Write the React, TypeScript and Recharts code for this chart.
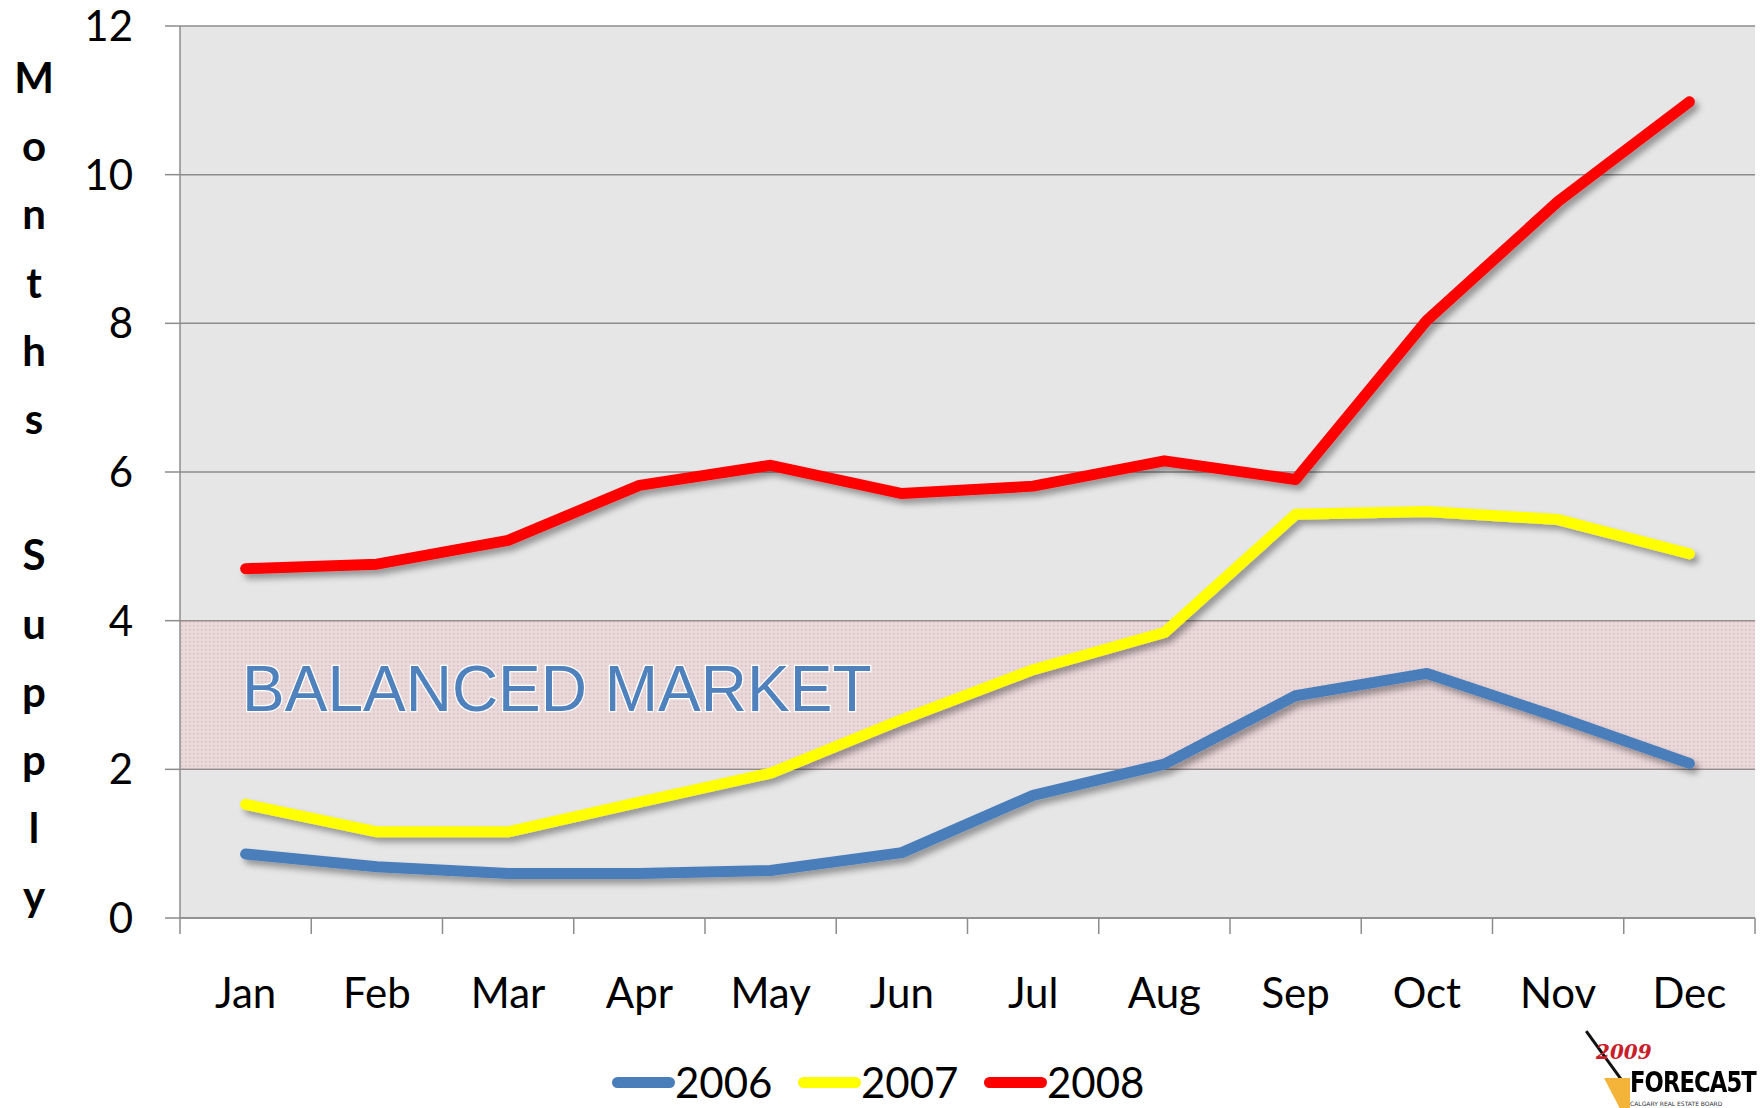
import React from 'react';
import {
  LineChart, Line, XAxis, YAxis, CartesianGrid, ReferenceArea, Legend
} from 'recharts';

// months supply
const months = ['Jan', 'Feb', 'Mar', 'Apr', 'May', 'Jun', 'Jul', 'Aug', 'Sep', 'Oct', 'Nov', 'Dec'];
const supply2006 = [0.86, 0.69, 0.6, 0.6, 0.64, 0.88, 1.65, 2.07, 2.99, 3.29, 2.7, 2.08];
const supply2007 = [1.53, 1.16, 1.16, 1.56, 1.95, 2.67, 3.34, 3.84, 5.43, 5.47, 5.36, 4.9];
const supply2008 = [4.7, 4.76, 5.08, 5.82, 6.09, 5.71, 5.81, 6.15, 5.9, 8.04, 9.64, 10.98];
const yTicks = [0, 2, 4, 6, 8, 10, 12];
const balancedBand = [2, 4];

const series = [
  { key: 'y2006', name: '2006', color: '#4A7EBB' },
  { key: 'y2007', name: '2007', color: '#FFFF00' },
  { key: 'y2008', name: '2008', color: '#FF0000' },
];

const data = months.map((m, i) => ({
  idx: i + 1,
  month: m,
  y2006: supply2006[i],
  y2007: supply2007[i],
  y2008: supply2008[i],
}));

const monthTicks = months.map((_, i) => i + 1);
const boundaryTicks = [...months.map((_, i) => i + 0.5), months.length + 0.5];

const yLabelChars = 'Months Supply'.split('');
const FONT = 'Lato, "Open Sans", sans-serif';

function YLabel() {
  return (
    <text textAnchor="middle" fontFamily={FONT} fontWeight={700} fontSize={42} fill="#000">
      {yLabelChars.map((c, i) => (
        <tspan key={i} x={34} y={93 + i * 68.2}>{c === ' ' ? '\u00a0' : c}</tspan>
      ))}
    </text>
  );
}

function BandLabel(props: any) {
  const vb = props.viewBox || {};
  return (
    <text
      x={vb.x + 62}
      y={vb.y + vb.height / 2 - 7}
      dy="0.36em"
      fontFamily='"Liberation Sans", Arial, sans-serif'
      fontSize={64}
      fill="#4F81BD"
      stroke="#ffffff"
      strokeWidth={2.5}
      paintOrder="stroke"
    >
      BALANCED MARKET
    </text>
  );
}

function LegendContent() {
  return (
    <div style={{ display: 'flex', height: 40, alignItems: 'center', fontFamily: FONT }}>
      {series.map((s) => (
        <div key={s.key} style={{ display: 'flex', alignItems: 'center', width: 186 }}>
          <span style={{ display: 'inline-block', width: 63, height: 11, borderRadius: 6, background: s.color }} />
          <span style={{ fontSize: 42, lineHeight: '40px', color: '#000' }}>{s.name}</span>
        </div>
      ))}
    </div>
  );
}

export default function App() {
  return (
    <div style={{ position: 'absolute', left: 0, top: 0, width: 1762, height: 1108, background: '#fff' }}>
      <LineChart
        width={1762}
        height={1108}
        data={data}
        margin={{ top: 26, right: 7, left: 80, bottom: 40 }}
      >
        <defs>
          <filter id="lineShadow" x="-10%" y="-10%" width="120%" height="130%">
            <feDropShadow dx="4" dy="5" stdDeviation="3" floodColor="#000" floodOpacity="0.35" />
          </filter>
          <pattern id="dots" width="4" height="4" patternUnits="userSpaceOnUse">
            <rect width="4" height="4" fill="rgba(240,175,182,0.22)" />
            <rect x="1" y="1" width="1.5" height="1.5" fill="rgba(215,120,132,0.35)" />
          </pattern>
        </defs>
        <CartesianGrid
          xAxisId="m"
          vertical={false}
          stroke="#8c8c8c"
          strokeWidth={1.5}
          fill="#e6e6e6"
          fillOpacity={1}
        />
        <XAxis
          xAxisId="g"
          type="number"
          dataKey="idx"
          domain={[0.5, months.length + 0.5]}
          allowDataOverflow
          ticks={boundaryTicks}
          interval={0}
          tickFormatter={() => ''}
          tickSize={16}
          height={20}
          stroke="#8c8c8c"
          strokeWidth={1.5}
        />
        <XAxis
          xAxisId="m"
          type="number"
          dataKey="idx"
          domain={[0.5, months.length + 0.5]}
          allowDataOverflow
          ticks={monthTicks}
          interval={0}
          tickFormatter={(v: number) => months[v - 1]}
          axisLine={false}
          tickLine={false}
          tickMargin={34}
          height={90}
          tick={{ fill: '#000', fontSize: 42, fontFamily: FONT }}
        />
        <YAxis
          domain={[0, 12]}
          ticks={yTicks}
          interval={0}
          width={100}
          tickSize={15}
          tickMargin={32}
          stroke="#8c8c8c"
          strokeWidth={1.5}
          tick={{ fill: '#000', fontSize: 42, fontFamily: FONT }}
          label={{ content: <YLabel /> }}
        />
        {series.map((s) => (
          <Line
            key={s.key}
            xAxisId="m"
            type="linear"
            dataKey={s.key}
            name={s.name}
            stroke={s.color}
            strokeWidth={11}
            strokeLinecap="round"
            strokeLinejoin="round"
            dot={false}
            activeDot={false}
            filter="url(#lineShadow)"
            isAnimationActive={false}
          />
        ))}
        <ReferenceArea
          xAxisId="m"
          y1={balancedBand[0]}
          y2={balancedBand[1]}
          fill="url(#dots)"
          fillOpacity={1}
          stroke="none"
          label={<BandLabel />}
        />
        <Legend
          verticalAlign="bottom"
          content={<LegendContent />}
          wrapperStyle={{ left: 612, top: 1062, width: 'auto', bottom: 'auto' }}
        />
      </LineChart>
      <div style={{ position: 'absolute', left: 1580, top: 1030, width: 182, height: 78, overflow: 'hidden' }}>
        <div style={{ position: 'absolute', left: 5, top: 2, width: 3, height: 66, background: '#111', transform: 'rotate(-36deg)', transformOrigin: 'top left' }} />
        <div style={{ position: 'absolute', left: 24, top: 48, width: 26, height: 30, background: '#f4b43a', clipPath: 'polygon(0 0, 100% 0, 100% 100%, 60% 100%)' }} />
        <div style={{ position: 'absolute', left: 16, top: 11, height: 22, lineHeight: '22px', color: '#c8202a', fontStyle: 'italic', fontFamily: '"DejaVu Serif", serif', fontSize: 20, fontWeight: 700 }}>2009</div>
        <div style={{ position: 'absolute', left: 50, top: 39, height: 28, color: '#000', fontFamily: '"DejaVu Sans Condensed", "DejaVu Sans", sans-serif', fontWeight: 700, fontSize: 28, letterSpacing: -1, lineHeight: '28px', transform: 'scaleX(0.9)', transformOrigin: 'left' }}>FORECA5T</div>
        <div style={{ position: 'absolute', left: 50, top: 70, height: 8, lineHeight: '8px', color: '#333', fontFamily: '"DejaVu Sans", sans-serif', fontSize: 6 }}>CALGARY REAL ESTATE BOARD</div>
      </div>
    </div>
  );
}
